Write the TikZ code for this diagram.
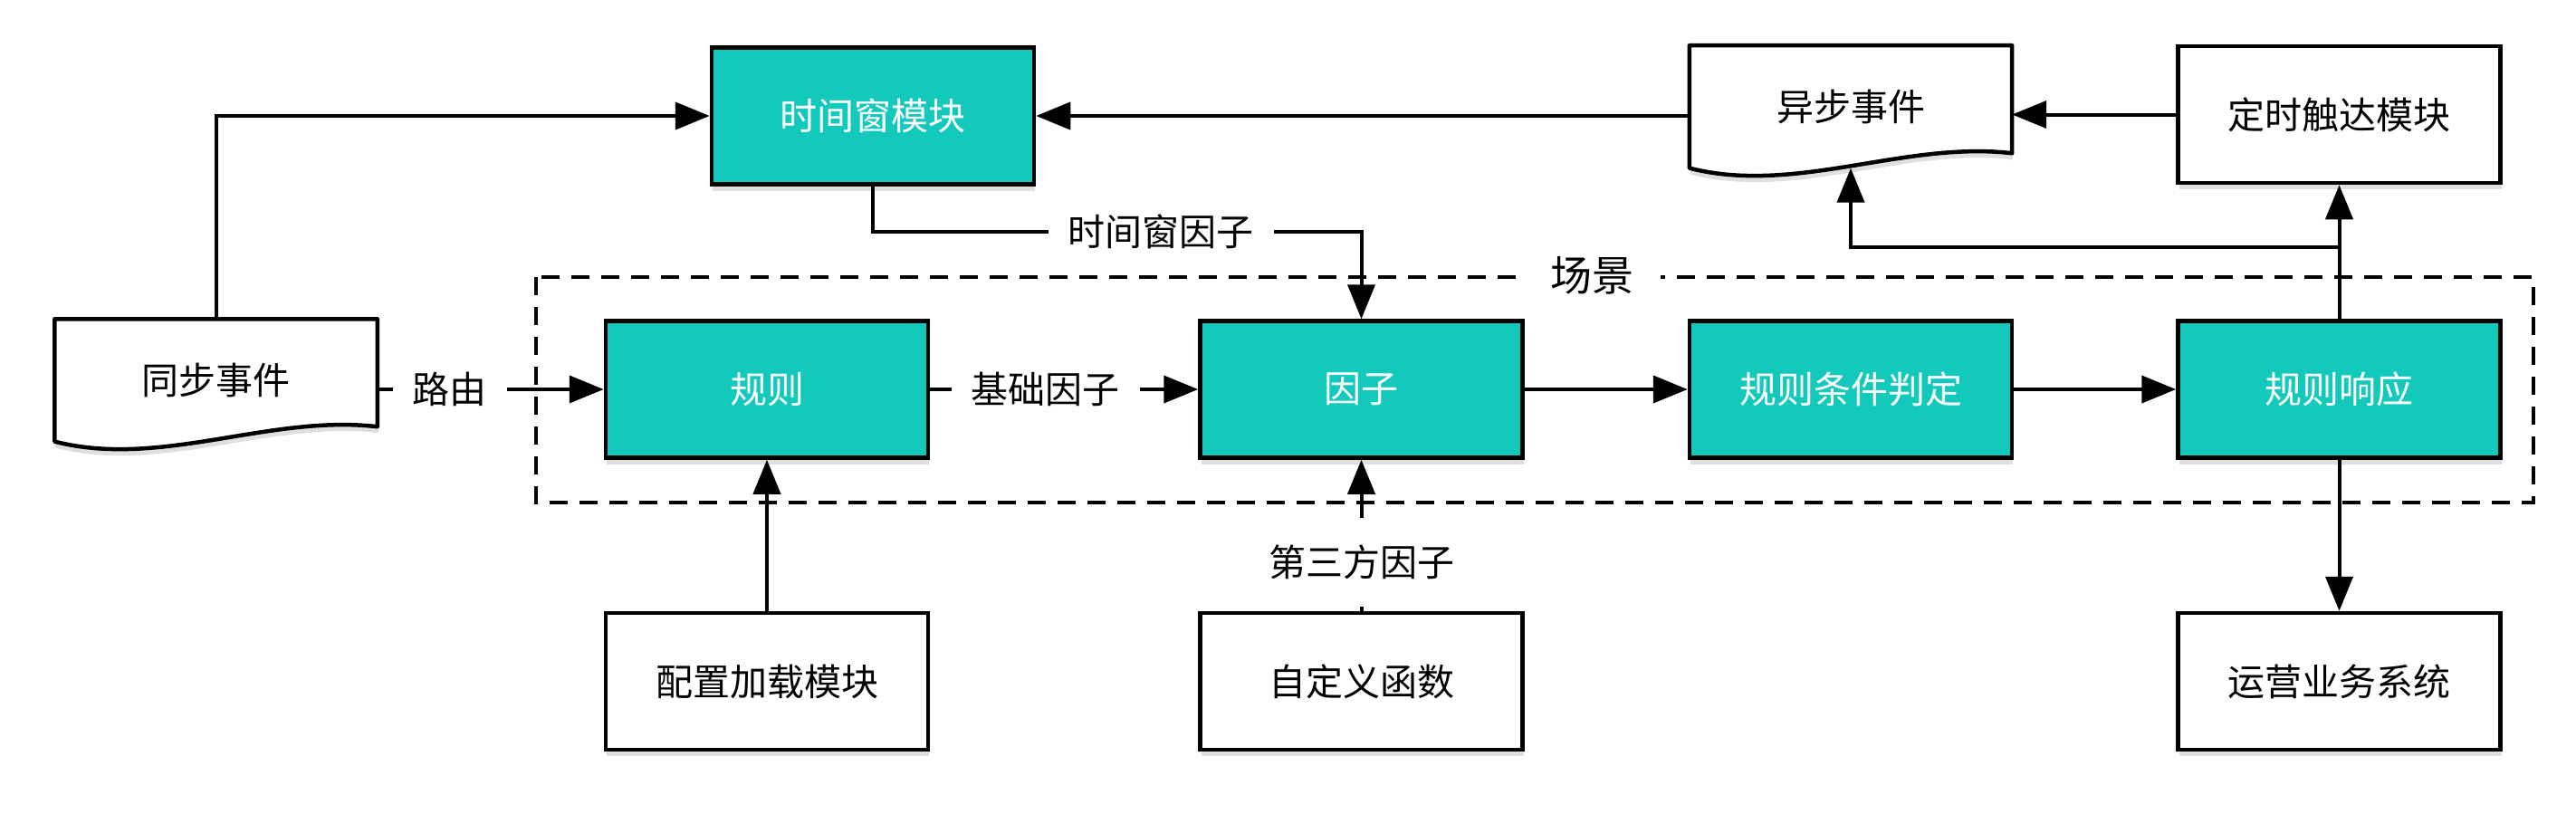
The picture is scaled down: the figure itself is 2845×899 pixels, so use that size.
\documentclass[tikz,border=0pt]{standalone}
\usepackage{fontspec}
\newfontfamily\cjk{Noto Sans CJK SC}
\usepackage{tikz}
\usetikzlibrary{arrows.meta, positioning, shadows, backgrounds}
\definecolor{keyteal}{RGB}{18,201,188}

\begin{document}
\begin{tikzpicture}[x=1pt, y=-1pt,
    box/.style={rectangle, draw, line width=4.5pt, fill=white, minimum width=356pt, minimum height=151pt,
        font=\cjk\fontsize{41pt}{49pt}\selectfont,
        drop shadow={opacity=0.25, shadow xshift=1pt, shadow yshift=-7pt}},
    keybox/.style={box, fill=keyteal, text=white},
    doc/.style={rectangle, minimum width=356pt, minimum height=135pt, inner sep=0pt,
        font=\cjk\fontsize{41pt}{49pt}\selectfont},
    docline/.style={draw, line width=4.5pt, fill=white, line join=round,
        drop shadow={opacity=0.25, shadow xshift=1pt, shadow yshift=-7pt}},
    arr/.style={-{Triangle[length=38pt, width=30pt]}, line width=4pt},
    lbl/.style={fill=white, inner xsep=22pt, inner ysep=4pt, font=\cjk\fontsize{41pt}{49pt}\selectfont},
    scene/.style={line width=4.5pt, dash pattern=on 20pt off 13pt}]
    \useasboundingbox (0,0) rectangle (2845,899);

    \draw[scene] (592,306) rectangle (2798,555);
    \node (scenelbl) [lbl, inner xsep=30pt, font=\cjk\fontsize{46pt}{55pt}\selectfont] at (1758,304) {场景};

    \node (rule) [keybox] at (847,430) {规则};
    \node (factor) [keybox, right=296pt of rule] {因子};
    \node (judge) [keybox, right=180pt of factor] {规则条件判定};
    \node (resp) [keybox, right=179pt of judge] {规则响应};

    \node (twin) [keybox] at (964,128) {时间窗模块};
    \node (timer) [box, above=148pt of resp] {定时触达模块};

    \node (load) [box, below=167pt of rule] {配置加载模块};
    \node (func) [box, below=167pt of factor] {自定义函数};
    \node (ops) [box, below=167pt of resp] {运营业务系统};

    \node (sync) [doc, left=250pt of rule.north west, anchor=north east] {同步事件};
    \node (async) [doc, anchor=north] at (judge.north |- twin.north) {异步事件};

    \begin{scope}[on background layer]
        \foreach \n in {sync, async}
            \draw[docline] (\n.north west) -- (\n.north east) -- ++(0,119)
                .. controls +(-119,-14) and +(117,30) .. (\n.south west) -- cycle;
    \end{scope}

    \draw[arr] (sync.north) |- (twin.west);
    \draw[arr] (async.west |- twin.east) -- (twin.east);
    \draw[arr] (timer.west) -- (async.east |- timer.west);
    \draw[arr] (twin.south) -- ++(0,50) -| node[lbl, pos=0.295] {时间窗因子} (factor.north);

    \draw[arr] (sync.east |- rule.west) -- node[lbl, pos=0.32] {路由} (rule.west);
    \draw[arr] (rule) -- node[lbl, pos=0.43] {基础因子} (factor);
    \draw[arr] (factor) -- (judge);
    \draw[arr] (judge) -- (resp);

    \draw[arr] (load) -- (rule);
    \draw[arr] (func) -- node[lbl, inner ysep=30pt, pos=0.32] {第三方因子} (factor);
    \draw[arr] (resp) -- (ops);
    \draw[arr] (resp) -- (timer);

    \coordinate (fork) at ([yshift=-69pt]timer.south);
    \draw[arr] (fork) -| (async.south);
\end{tikzpicture}
\end{document}
